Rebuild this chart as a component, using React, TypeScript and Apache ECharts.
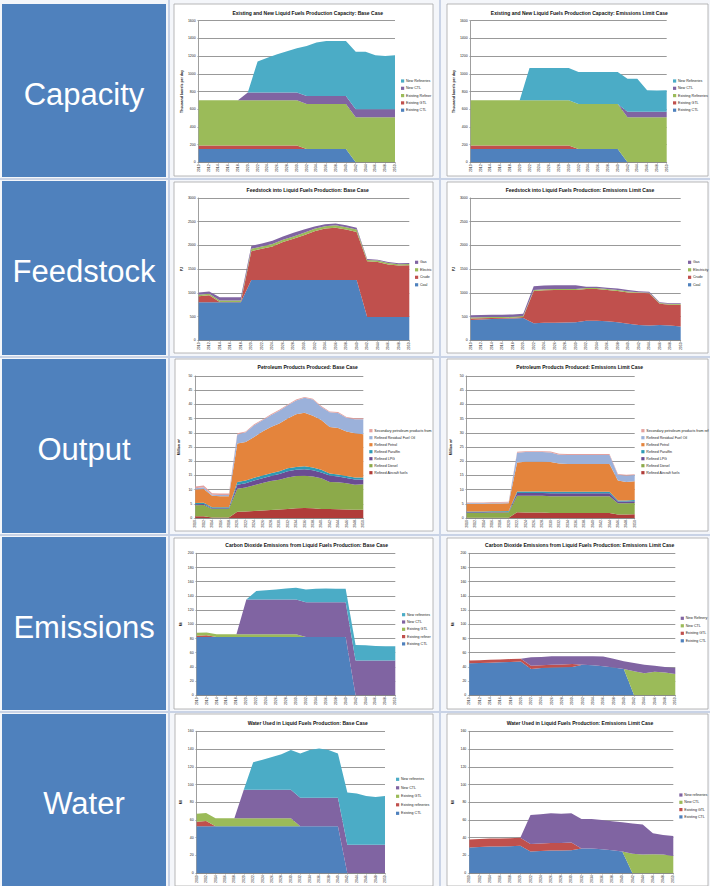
import React, { useEffect, useRef } from "react";
import * as echarts from "echarts";

const YEARS = ["2010","2012","2014","2016","2018","2020","2022","2024","2026","2028","2030","2032","2034","2036","2038","2040","2042","2044","2046","2048","2050"];

// Capacity: Base Case (thousand barrels per day)
const CAP_BASE_EXISTING_CTL = [150,150,150,150,150,150,150,150,150,150,150,150,150,150,150,150,0,0,0,0,0];
const CAP_BASE_EXISTING_GTL = [40,40,40,40,40,40,40,40,40,40,40,0,0,0,0,0,0,0,0,0,0];
const CAP_BASE_EXISTING_REF = [510,510,510,510,510,510,510,510,510,510,510,510,510,510,510,510,510,510,510,510,510];
const CAP_BASE_NEW_CTL = [0,0,0,0,0,90,90,90,90,90,90,90,90,90,90,90,90,90,90,90,90];
const CAP_BASE_NEW_REF = [0,0,0,0,0,0,350,390,430,465,500,565,605,620,620,620,650,650,610,600,610];

// Capacity: Emissions Limit Case
const CAP_EL_EXISTING_CTL = [150,150,150,150,150,150,150,150,150,150,150,150,150,150,150,150,0,0,0,0,0];
const CAP_EL_EXISTING_GTL = [40,40,40,40,40,40,40,40,40,40,40,0,0,0,0,0,0,0,0,0,0];
const CAP_EL_EXISTING_REF = [510,510,510,510,510,510,510,510,510,510,510,510,510,510,510,510,510,510,510,510,510];
const CAP_EL_NEW_CTL = [0,0,0,0,0,0,0,0,0,0,0,0,0,0,0,0,60,60,60,60,60];
const CAP_EL_NEW_REF = [0,0,0,0,0,0,365,365,365,365,365,360,360,360,360,360,375,375,245,240,245];

// Feedstock: Base Case (PJ)
const FS_BASE_COAL = [800,800,800,800,800,1270,1270,1270,1270,1270,1270,1270,1270,1270,1270,1270,490,490,490,490,490];
const FS_BASE_CRUDE = [130,150,10,10,10,610,660,710,800,870,945,1030,1085,1105,1065,1015,1175,1160,1110,1085,1090];
const FS_BASE_ELEC = [30,30,30,30,30,50,50,50,50,50,50,50,50,50,50,50,30,30,30,30,30];
const FS_BASE_GAS = [50,50,70,70,70,60,60,70,70,80,70,50,40,40,40,40,20,20,20,20,20];

// Feedstock: Emissions Limit Case
const FS_EL_COAL = [430,440,450,455,460,470,360,370,370,375,380,410,410,400,380,350,320,310,320,310,290];
const FS_EL_CRUDE = [30,25,20,15,15,20,680,685,690,685,680,670,670,660,660,660,680,680,450,440,460];
const FS_EL_ELEC = [20,20,20,20,20,20,20,20,20,20,20,20,20,20,20,20,15,15,15,15,15];
const FS_EL_GAS = [50,50,50,50,50,50,80,80,80,80,80,30,30,30,30,30,20,20,15,15,15];

// Petroleum products: Base Case
const PP_BASE_AIRCRAFT = [0.6,0.6,0.2,0.2,0.2,2.2,2.3,2.5,2.6,2.8,3.0,3.2,3.4,3.5,3.4,3.2,3.2,3.1,3.0,2.9,2.9];
const PP_BASE_DIESEL = [3.9,4.0,3.0,3.0,3.0,8.1,8.4,9.0,9.7,10.2,10.5,11.1,11.4,11.4,11.2,10.8,9.5,9.5,9.2,8.8,9.0];
const PP_BASE_LPG = [0.3,0.3,0.2,0.2,0.2,1.4,1.5,1.7,1.7,1.8,2.0,2.2,2.2,2.3,2.2,2.0,2.3,2.0,1.9,1.9,1.7];
const PP_BASE_PARAFFIN = [0.5,0.5,0.4,0.4,0.4,1.0,1.0,1.0,1.0,1.0,1.0,1.0,1.0,1.0,1.0,1.0,0.7,0.7,0.7,0.7,0.7];
const PP_BASE_PETROL = [4.7,4.8,4.0,3.9,3.9,13.5,13.6,14.3,15.5,16.2,16.8,17.5,18.5,18.9,18.2,17.5,16.3,16.4,15.7,15.5,15.2];
const PP_BASE_RESIDUAL = [0.5,0.6,0.4,0.4,0.4,3.2,3.4,4.2,3.9,4.2,4.5,4.7,4.9,5.2,5.7,4.6,5.2,5.3,4.8,5.0,5.3];
const PP_BASE_SECONDARY = [0.6,0.6,0.5,0.5,0.5,0.4,0.3,0.3,0.3,0.3,0.3,0.3,0.3,0.3,0.3,0.3,0.3,0.3,0.3,0.3,0.3];

// Petroleum products: Emissions Limit Case
const PP_EL_AIRCRAFT = [0.1,0.1,0.1,0.1,0.1,0.1,2.0,1.9,1.9,1.9,1.8,1.8,1.8,1.8,1.8,1.8,1.8,1.8,1.2,1.2,1.3];
const PP_EL_DIESEL = [1.7,1.7,1.7,1.8,1.8,1.9,5.8,5.9,5.9,5.9,5.9,5.9,5.9,5.9,5.9,5.9,5.9,5.9,4.0,4.0,4.0];
const PP_EL_LPG = [0.2,0.2,0.2,0.2,0.2,0.2,1.0,1.0,1.0,1.0,1.0,1.0,1.0,1.0,1.0,1.0,1.0,1.0,0.6,0.6,0.6];
const PP_EL_PARAFFIN = [0.3,0.3,0.3,0.3,0.3,0.3,0.5,0.5,0.5,0.5,0.5,0.5,0.5,0.5,0.5,0.5,0.5,0.5,0.4,0.4,0.4];
const PP_EL_PETROL = [2.7,2.7,2.7,2.7,2.7,2.7,10.2,10.5,10.5,10.5,10.5,10.0,9.8,9.8,9.8,9.8,9.8,9.8,7.0,6.5,6.6];
const PP_EL_RESIDUAL = [0.3,0.3,0.3,0.3,0.3,0.3,3.5,3.4,3.4,3.4,3.4,3.1,3.2,3.2,3.2,3.2,3.2,3.2,2.0,2.2,2.2];
const PP_EL_SECONDARY = [0.2,0.2,0.2,0.2,0.2,0.2,0.3,0.3,0.3,0.3,0.3,0.3,0.3,0.3,0.3,0.3,0.3,0.3,0.3,0.3,0.3];

// CO2 emissions: Base Case (Mt)
const CO2_BASE_EXISTING_CTL = [82,82,82,82,82,82,82,82,82,82,82,82,82,82,82,82,0,0,0,0,0];
const CO2_BASE_EXISTING_REF = [2,2.5,0,0,0,0,0,0,0,0,0,0,0,0,0,0,0,0,0,0,0];
const CO2_BASE_EXISTING_GTL = [4,4,4,4,4,4,4,4,4,4,4,0,0,0,0,0,0,0,0,0,0];
const CO2_BASE_NEW_CTL = [0,0,0,0,0,49,49,49,49,49,49,49,49,49,49,49,49,49,49,49,49];
const CO2_BASE_NEW_REF = [0,0,0,0,0,0,12,13,14,15.5,16.5,18,19,19.5,19,19,22,21.5,20.5,20,20];

// CO2 emissions: Emissions Limit Case
const CO2_EL_EXISTING_CTL = [45,45.5,46,46.5,47,47.5,37,38.5,39,39.5,40,43,42.5,41,39,37,0,0,0,0,0];
const CO2_EL_EXISTING_GTL = [4,4,4,4,4,4,4.5,4,4,4,4,0,0,0,0,0,0,0,0,0,0];
const CO2_EL_NEW_CTL = [0,0,0,0,0,0,0,0,0,0,0,0,0,0,0,0,34,31,33,32,30];
const CO2_EL_NEW_REF = [0,0,0,0,0,0,12,11.5,12,11.5,11,12,12.5,13.5,12.5,11,11.5,12,8.5,8,8.5];

// Water: Base Case
const W_BASE_EXISTING_CTL = [53,53,53,53,53,53,53,53,53,53,53,53,53,53,53,53,0,0,0,0,0];
const W_BASE_EXISTING_REF = [5,6,0,0,0,0,0,0,0,0,0,0,0,0,0,0,0,0,0,0,0];
const W_BASE_EXISTING_GTL = [9,9,9,9,9,9,9,9,9,9,9,0,0,0,0,0,0,0,0,0,0];
const W_BASE_NEW_CTL = [0,0,0,0,0,32,32,32,32,32,32,32,32,32,32,32,32,32,32,32,32];
const W_BASE_NEW_REF = [0,0,0,0,0,0,31,34,37,40,45,50,54,55.5,54,50,59,58,55,54,55];

// Water: Emissions Limit Case
const W_EL_EXISTING_CTL = [29,29.5,30,30,30.5,31,24.5,25,25.5,25.5,26,28,28,27,26,24.5,0,0,0,0,0];
const W_EL_EXISTING_GTL = [9,9,9,9,9,9,8.5,8.5,8.5,8.5,8.5,0,0,0,0,0,0,0,0,0,0];
const W_EL_NEW_CTL = [0,0,0,0,0,0,0,0,0,0,0,0,0,0,0,0,22,21,21.5,21,19.5];
const W_EL_NEW_REF = [0,0,0,0,0,0,32.5,33,33.5,33,33,33,33,33,32.5,33,34,34,23.5,22,22.5];

const ROW_LABELS = ["Capacity", "Feedstock", "Output", "Emissions", "Water"];

const BLUE = "#4F81BD";
const RED = "#C0504D";
const GREEN = "#9BBB59";
const PURPLE = "#8064A2";
const TEAL = "#4BACC6";
const FONT = '"Liberation Sans", Arial, sans-serif';

type S = { name: string; data: number[]; color: string };
type Chart = { title: string; yMax: number; yInt: number; yName: string; series: S[] };

const CHARTS: Chart[] = [
  { title: "Existing and New Liquid Fuels Production Capacity: Base Case", yMax: 1600, yInt: 200, yName: "Thousand barrels per day",
    series: [
      { name: "Existing CTL", data: CAP_BASE_EXISTING_CTL, color: BLUE },
      { name: "Existing GTL", data: CAP_BASE_EXISTING_GTL, color: RED },
      { name: "Existing Refineries", data: CAP_BASE_EXISTING_REF, color: GREEN },
      { name: "New CTL", data: CAP_BASE_NEW_CTL, color: PURPLE },
      { name: "New Refineries", data: CAP_BASE_NEW_REF, color: TEAL },
    ] },
  { title: "Existing and New Liquid Fuels Production Capacity: Emissions Limit Case", yMax: 1600, yInt: 200, yName: "Thousand barrels per day",
    series: [
      { name: "Existing CTL", data: CAP_EL_EXISTING_CTL, color: BLUE },
      { name: "Existing GTL", data: CAP_EL_EXISTING_GTL, color: RED },
      { name: "Existing Refineries", data: CAP_EL_EXISTING_REF, color: GREEN },
      { name: "New CTL", data: CAP_EL_NEW_CTL, color: PURPLE },
      { name: "New Refineries", data: CAP_EL_NEW_REF, color: TEAL },
    ] },
  { title: "Feedstock into Liquid Fuels Production: Base Case", yMax: 3000, yInt: 500, yName: "PJ",
    series: [
      { name: "Coal", data: FS_BASE_COAL, color: BLUE },
      { name: "Crude", data: FS_BASE_CRUDE, color: RED },
      { name: "Electricity", data: FS_BASE_ELEC, color: GREEN },
      { name: "Gas", data: FS_BASE_GAS, color: PURPLE },
    ] },
  { title: "Feedstock into Liquid Fuels Production: Emissions Limit Case", yMax: 3000, yInt: 500, yName: "PJ",
    series: [
      { name: "Coal", data: FS_EL_COAL, color: BLUE },
      { name: "Crude", data: FS_EL_CRUDE, color: RED },
      { name: "Electricity", data: FS_EL_ELEC, color: GREEN },
      { name: "Gas", data: FS_EL_GAS, color: PURPLE },
    ] },
  { title: "Petroleum Products Produced: Base Case", yMax: 50, yInt: 5, yName: "Million m³",
    series: [
      { name: "Refined Aircraft fuels", data: PP_BASE_AIRCRAFT, color: "#B03C39" },
      { name: "Refined Diesel", data: PP_BASE_DIESEL, color: "#8CAA4A" },
      { name: "Refined LPG", data: PP_BASE_LPG, color: "#6A4C93" },
      { name: "Refined Paraffin", data: PP_BASE_PARAFFIN, color: "#2E9AB5" },
      { name: "Refined Petrol", data: PP_BASE_PETROL, color: "#E4843C" },
      { name: "Refined Residual Fuel Oil", data: PP_BASE_RESIDUAL, color: "#9BB1DA" },
      { name: "Secondary petroleum products from refineries", data: PP_BASE_SECONDARY, color: "#E3A09E" },
    ] },
  { title: "Petroleum Products Produced: Emissions Limit Case", yMax: 50, yInt: 5, yName: "Million m³",
    series: [
      { name: "Refined Aircraft fuels", data: PP_EL_AIRCRAFT, color: "#B03C39" },
      { name: "Refined Diesel", data: PP_EL_DIESEL, color: "#8CAA4A" },
      { name: "Refined LPG", data: PP_EL_LPG, color: "#6A4C93" },
      { name: "Refined Paraffin", data: PP_EL_PARAFFIN, color: "#2E9AB5" },
      { name: "Refined Petrol", data: PP_EL_PETROL, color: "#E4843C" },
      { name: "Refined Residual Fuel Oil", data: PP_EL_RESIDUAL, color: "#9BB1DA" },
      { name: "Secondary petroleum products from refineries", data: PP_EL_SECONDARY, color: "#E3A09E" },
    ] },
  { title: "Carbon Dioxide Emissions from Liquid Fuels Production: Base Case", yMax: 200, yInt: 20, yName: "Mt",
    series: [
      { name: "Existing CTL", data: CO2_BASE_EXISTING_CTL, color: BLUE },
      { name: "Existing refineries", data: CO2_BASE_EXISTING_REF, color: RED },
      { name: "Existing GTL", data: CO2_BASE_EXISTING_GTL, color: GREEN },
      { name: "New CTL", data: CO2_BASE_NEW_CTL, color: PURPLE },
      { name: "New refineries", data: CO2_BASE_NEW_REF, color: TEAL },
    ] },
  { title: "Carbon Dioxide Emissions from Liquid Fuels Production: Emissions Limit Case", yMax: 200, yInt: 20, yName: "Mt",
    series: [
      { name: "Existing CTL", data: CO2_EL_EXISTING_CTL, color: BLUE },
      { name: "Existing GTL", data: CO2_EL_EXISTING_GTL, color: RED },
      { name: "New CTL", data: CO2_EL_NEW_CTL, color: GREEN },
      { name: "New Refinery", data: CO2_EL_NEW_REF, color: PURPLE },
    ] },
  { title: "Water Used in Liquid Fuels Production: Base Case", yMax: 160, yInt: 20, yName: "Ml",
    series: [
      { name: "Existing CTL", data: W_BASE_EXISTING_CTL, color: BLUE },
      { name: "Existing refineries", data: W_BASE_EXISTING_REF, color: RED },
      { name: "Existing GTL", data: W_BASE_EXISTING_GTL, color: GREEN },
      { name: "New CTL", data: W_BASE_NEW_CTL, color: PURPLE },
      { name: "New refineries", data: W_BASE_NEW_REF, color: TEAL },
    ] },
  { title: "Water Used in Liquid Fuels Production: Emissions Limit Case", yMax: 160, yInt: 20, yName: "Ml",
    series: [
      { name: "Existing CTL", data: W_EL_EXISTING_CTL, color: BLUE },
      { name: "Existing GTL", data: W_EL_EXISTING_GTL, color: RED },
      { name: "New CTL", data: W_EL_NEW_CTL, color: GREEN },
      { name: "New refineries", data: W_EL_NEW_REF, color: PURPLE },
    ] },
];

// Layout (positions only)
const LAYOUT = [
  { panel: [174, 4, 259, 172], grid: [198.7, 20.7, 196.3, 141.6], title: [307.7, 12.7], legend: [401, 81, 7.3], clip: 433 },
  { panel: [447, 4, 261, 172], grid: [470.7, 20.7, 196, 141.6], title: [579.3, 12.7], legend: [673, 81, 7.3], clip: 710 },
  { panel: [174, 182, 259, 171], grid: [198.7, 198, 210.6, 142.3], title: [307.7, 190.3], legend: [415, 262.3, 7.5], clip: 433 },
  { panel: [447, 182, 261, 171], grid: [470.7, 198, 210, 142.3], title: [580, 190.3], legend: [688, 262.3, 7.5], clip: 710 },
  { panel: [175, 359, 258, 172], grid: [195.3, 376, 168, 142], title: [307.7, 367], legend: [369.3, 430.7, 7], clip: 433 },
  { panel: [447, 359, 261, 172], grid: [466.7, 376, 168, 142], title: [579.7, 367], legend: [641.3, 430.7, 7], clip: 710 },
  { panel: [174, 538, 259, 171], grid: [196.7, 553.3, 198.6, 142], title: [306.7, 545], legend: [402, 614.7, 7.3], clip: 433 },
  { panel: [447, 538, 261, 171], grid: [469.3, 553.3, 206, 142], title: [579.7, 545], legend: [680.7, 618.3, 7.5], clip: 710 },
  { panel: [175, 714, 258, 172], grid: [196.7, 731.3, 188.3, 142], title: [307.7, 723.3], legend: [396, 779.3, 8.5], clip: 433 },
  { panel: [447, 714, 261, 172], grid: [469.3, 731.3, 204, 142], title: [580, 723.3], legend: [679.3, 795, 7.3], clip: 710 },
];
const ROW_BOXES = [[4, 177], [181, 355], [359, 533], [537, 710], [714, 886]];

function buildOption() {
  const grid: any[] = [];
  const xAxis: any[] = [];
  const yAxis: any[] = [];
  const series: any[] = [];
  const graphic: any[] = [];

  graphic.push({ type: "rect", silent: true, z: -20, shape: { x: 0, y: 0, width: 710, height: 886 }, style: { fill: "#F4F6FA" } });
  [179, 357, 535, 712].forEach((y) =>
    graphic.push({ type: "line", silent: true, z: -15, shape: { x1: 0, y1: y, x2: 710, y2: y }, style: { stroke: "#C9D3E6", lineWidth: 2 } })
  );
  [169, 440].forEach((x) =>
    graphic.push({ type: "line", silent: true, z: -15, shape: { x1: x, y1: 0, x2: x, y2: 886 }, style: { stroke: "#C9D3E6", lineWidth: 2 } })
  );

  ROW_BOXES.forEach(([y0, y1], r) => {
    graphic.push({ type: "rect", silent: true, z: -10, shape: { x: 2, y: y0, width: 164, height: y1 - y0 }, style: { fill: BLUE } });
    graphic.push({
      type: "text", silent: true, z: 50, x: 84, y: (y0 + y1) / 2 + 3.5,
      style: { text: ROW_LABELS[r], fill: "#FFFFFF", font: `31px ${FONT}`, textAlign: "center", textVerticalAlign: "middle", verticalAlign: "middle" },
    });
  });

  CHARTS.forEach((c, i) => {
    const L = LAYOUT[i];
    graphic.push({
      type: "rect", silent: true, z: -10,
      shape: { x: L.panel[0], y: L.panel[1], width: L.panel[2], height: L.panel[3] },
      style: { fill: "#FFFFFF", stroke: "#A6A6A6", lineWidth: 0.8 },
    });
    graphic.push({
      type: "text", silent: true, z: 50, x: L.title[0], y: L.title[1],
      style: { text: c.title, fill: "#111", font: `bold 5px ${FONT}`, textAlign: "center", textVerticalAlign: "middle", verticalAlign: "middle" },
    });
    grid.push({ left: L.grid[0], top: L.grid[1], width: L.grid[2], height: L.grid[3], containLabel: false });
    xAxis.push({
      type: "category", gridIndex: i, data: YEARS, boundaryGap: false,
      axisLine: { lineStyle: { color: "#868686", width: 0.8 } },
      axisTick: { show: true, length: 1.5, lineStyle: { color: "#868686", width: 0.5 } },
      axisLabel: { interval: 0, rotate: 90, fontSize: 3.5, color: "#222", margin: 2, fontFamily: FONT },
      splitLine: { show: false },
    });
    yAxis.push({
      type: "value", gridIndex: i, min: 0, max: c.yMax, interval: c.yInt,
      name: c.yName, nameLocation: "middle", nameRotate: 90, nameGap: 14,
      nameTextStyle: { fontSize: 3.5, fontWeight: "bold", color: "#222", fontFamily: FONT },
      axisLine: { show: true, lineStyle: { color: "#868686", width: 0.8 } },
      axisTick: { show: true, length: 1.5, lineStyle: { color: "#868686", width: 0.5 } },
      axisLabel: { fontSize: 3.5, color: "#222", margin: 3, fontFamily: FONT, formatter: (v: number) => String(v) },
      splitLine: { show: true, lineStyle: { color: "#7F7F7F", width: 0.8 } },
    });
    c.series.forEach((s) => {
      series.push({
        type: "line", name: s.name, data: s.data, stack: "st" + i,
        xAxisIndex: i, yAxisIndex: i, symbol: "none", showSymbol: false, silent: true,
        lineStyle: { width: 0, color: s.color }, itemStyle: { color: s.color },
        areaStyle: { color: s.color, opacity: 1 }, emphasis: { disabled: true },
      });
    });
    // legend (drawn as graphic so that the swatch/text spacing and clipping match)
    const [lx, ly, lg] = L.legend;
    c.series.slice().reverse().forEach((s, k) => {
      const cy = ly + k * lg;
      graphic.push({ type: "rect", silent: true, z: 50, shape: { x: lx, y: cy - 1.6, width: 3.2, height: 3.2 }, style: { fill: s.color } });
      graphic.push({
        type: "text", silent: true, z: 50, x: lx + 5, y: cy,
        style: {
          text: s.name, fill: "#222", font: `3.6px ${FONT}`, textVerticalAlign: "middle", verticalAlign: "middle",
          width: L.clip - lx - 5, overflow: "truncate", ellipsis: "",
        },
      });
    });
  });

  return { animation: false, backgroundColor: "#FFFFFF", grid, xAxis, yAxis, series, graphic, tooltip: { show: false } };
}

export default function App() {
  const ref = useRef<HTMLDivElement>(null);
  useEffect(() => {
    document.body.style.margin = "0";
    const chart = echarts.init(ref.current!, undefined, { renderer: "svg", width: 710, height: 886 });
    chart.setOption(buildOption());
    return () => chart.dispose();
  }, []);
  return <div ref={ref} style={{ position: "absolute", left: 0, top: 0, width: 710, height: 886 }} />;
}
